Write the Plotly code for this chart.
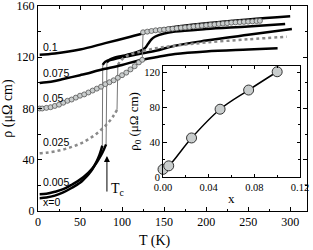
import plotly.graph_objects as go

# ---------------- data ----------------
# x = 0
T_x0_low = [2, 10, 20, 30, 40, 50, 55, 60, 65, 70, 73, 75, 76.5]
R_x0_low = [10, 10.5, 12, 14.5, 18, 22, 25, 28.5, 33, 39, 43.5, 47.5, 51]
T_x0_high = [77, 80, 90, 100, 120, 140, 163, 200, 250, 302]
R_x0_high = [114, 116.5, 118.5, 120, 122.5, 125, 129, 133, 137.5, 142]

# x = 0.005
T_x005_low = [2, 10, 20, 30, 40, 50, 60, 65, 70, 75, 78, 81]
R_x005_low = [13, 13.5, 15, 17, 20.5, 24.5, 30, 33.5, 38, 43.5, 47.5, 52]
T_x005_high = [82, 85, 90, 100, 110, 120, 127, 131, 135, 139, 150, 163, 200, 250, 294]
R_x005_high = [116, 118, 119.5, 121, 122.5, 124.5, 127, 130.5, 134, 136, 138.5, 140, 142, 144, 146]

# x = 0.025
T_x025_low = [2, 10, 20, 30, 40, 50, 60, 70, 80, 85, 90, 94]
R_x025_low = [45, 45.5, 46.5, 48, 50, 52.5, 56, 60.5, 66.5, 70, 74.5, 79]
T_x025_high = [95, 98, 102, 107, 120, 140, 163, 200, 250, 296]
R_x025_high = [114, 117, 119.5, 121.5, 124, 127, 129, 131.5, 134, 136]

# x = 0.05 (circles)
T_x05_low = [2, 5, 10, 15, 20, 25, 30, 35, 40, 45, 50, 55, 60, 65, 70, 75, 80,
             85, 90, 95, 100, 105, 110, 115, 120, 124]
R_x05_low = [80, 80, 80.5, 81, 82, 83, 84.5, 86, 87, 88.5, 90, 91, 92.5, 94, 95.5,
             97, 99, 100.5, 102, 104, 106, 108, 110.5, 113, 116, 118]
T_x05_high = [125, 130, 135, 140, 145, 150, 155, 160, 165, 170, 175, 180, 185, 190,
              195, 200, 205, 210, 215, 220, 225, 230, 235, 240, 245, 250, 255, 260, 264]
R_x05_high = [139.5, 140, 140.5, 141, 141.3, 141.6, 142, 142.3, 142.6, 143, 143.3,
              143.6, 144, 144.3, 144.6, 145, 145.3, 145.6, 146, 146.3, 146.6, 147,
              147.2, 147.4, 147.6, 147.8, 148, 148.2, 148.4]

# x = 0.075
T_x075 = [2, 10, 20, 30, 40, 50, 60, 70, 80, 100, 120, 140, 163, 200, 250, 285]
R_x075 = [100, 100.5, 101.5, 103, 104.5, 106, 107.5, 109.5, 111, 114, 117.5, 120,
          122.5, 124.5, 126, 127]

# x = 0.1
T_x10 = [2, 20, 50, 80, 110, 140, 160, 200, 250, 300]
R_x10 = [122, 123, 126, 131, 136, 141, 143.5, 146.5, 149.5, 152]

# inset: residual resistivity vs x
x_inset = [0, 0.005, 0.025, 0.05, 0.075, 0.1]
rho0_inset = [9, 13, 45, 78, 100, 121]

# curve labels
label_text = ["0.1", "0.075", "0.05", "0.025", "0.005", "x=0"]
label_T = [3.5, 3.5, 3.5, 3.5, 3.5, 3.5]
label_rho = [128, 108, 88, 53.5, 22.5, 7]

# ---------------- figure ----------------
fig = go.Figure()
BLACK = "black"
JUMP = "#777777"


def jump(Tl, Rl, Th, Rh, color=JUMP):
    fig.add_trace(go.Scatter(x=[Tl[-1], Th[0]], y=[Rl[-1], Rh[0]], mode="lines",
                             line=dict(color=color, width=1), showlegend=False,
                             hoverinfo="skip"))


# thick solid curves
for Tl, Rl, Th, Rh in [(T_x0_low, R_x0_low, T_x0_high, R_x0_high),
                       (T_x005_low, R_x005_low, T_x005_high, R_x005_high)]:
    jump(Tl, Rl, Th, Rh)
    for T, R in [(Tl, Rl), (Th, Rh)]:
        fig.add_trace(go.Scatter(x=T, y=R, mode="lines", line=dict(color=BLACK, width=2.5, shape="spline"),
                                 showlegend=False))

# 0.025: grey dotted
jump(T_x025_low, R_x025_low, T_x025_high, R_x025_high)
for T, R in [(T_x025_low, R_x025_low), (T_x025_high, R_x025_high)]:
    fig.add_trace(go.Scatter(x=T, y=R, mode="lines",
                             line=dict(color="#8a8a8a", width=2.5, dash="dot", shape="spline"),
                             showlegend=False))

for T, R in [(T_x075, R_x075), (T_x10, R_x10)]:
    fig.add_trace(go.Scatter(x=T, y=R, mode="lines", line=dict(color=BLACK, width=2.5, shape="spline"),
                             showlegend=False))

# 0.05: circles
jump(T_x05_low, R_x05_low, T_x05_high, R_x05_high)
for T, R in [(T_x05_low, R_x05_low), (T_x05_high, R_x05_high)]:
    fig.add_trace(go.Scatter(x=T, y=R, mode="lines+markers",
                             line=dict(color="#555555", width=1),
                             marker=dict(symbol="circle", size=5, color="#c9cdcd",
                                         line=dict(color="#555555", width=0.8)),
                             showlegend=False))

# inset
fig.add_trace(go.Scatter(x=x_inset, y=rho0_inset, mode="lines+markers", xaxis="x2", yaxis="y2",
                         line=dict(color=BLACK, width=1.5, shape="spline"),
                         marker=dict(size=10, color="#c9cdcd", line=dict(color="#333333", width=1)),
                         showlegend=False, cliponaxis=False))

serif = "Liberation Serif"
ann = []
for t, xx, yy in zip(label_text, label_T, label_rho):
    ann.append(dict(x=xx, y=yy, xref="x", yref="y", text=t, showarrow=False, xanchor="left",
                    font=dict(family="Liberation Sans", size=10.5, color="black")))
# Tc arrow
ann.append(dict(x=82, y=43, ax=82, ay=14, xref="x", yref="y", axref="x", ayref="y",
                text="", showarrow=True, arrowhead=2, arrowsize=1.2, arrowwidth=1, arrowcolor="black"))
ann.append(dict(x=84, y=17, xref="x", yref="y", text="T<sub>c</sub>", showarrow=False,
                xanchor="left", font=dict(family=serif, size=14, color="black")))
# axis titles placed as paper annotations
ann.append(dict(x=0.435, y=-0.146, xref="paper", yref="paper", text="T (K)", showarrow=False,
                xanchor="center", yanchor="middle", font=dict(family=serif, size=14, color="black")))
ann.append(dict(x=0.72, y=0.063, xref="paper", yref="paper", text="x", showarrow=False,
                xanchor="center", yanchor="middle", font=dict(family=serif, size=13, color="black")))

axis_common = dict(showline=True, linecolor="black", linewidth=1, mirror="ticks", ticks="inside",
                   tickcolor="black", showgrid=False, zeroline=False, ticklabeloverflow="allow",
                   automargin=False)

fig.update_layout(
    width=313, height=250,
    margin=dict(l=38, r=6, t=6, b=39),
    paper_bgcolor="white", plot_bgcolor="white",
    font=dict(family=serif, size=12, color="black"),
    xaxis=dict(range=[0, 320], dtick=50, tick0=0, ticklen=4, domain=[0, 1],
               minor=dict(ticks="inside", dtick=25, ticklen=2.5, tickcolor="black"),
               tickfont=dict(size=12, family=serif), **axis_common),
    yaxis=dict(range=[0, 160], dtick=40, tick0=0, ticklen=4, domain=[0, 1],
               minor=dict(ticks="inside", dtick=20, ticklen=2.5, tickcolor="black"),
               title=dict(text="ρ (μΩ cm)", font=dict(size=14, family=serif), standoff=6),
               tickfont=dict(size=12, family=serif), **axis_common),
    xaxis2=dict(range=[0, 0.12], dtick=0.04, tick0=0, tickformat=".2f", ticklen=3.5,
                domain=[0.4647, 0.974], anchor="y2",
                minor=dict(ticks="inside", dtick=0.02, ticklen=2, tickcolor="black"),
                tickfont=dict(size=10.5, family=serif), **axis_common),
    yaxis2=dict(range=[0, 128], dtick=40, tick0=0, ticklen=3.5,
                domain=[0.165, 0.709], anchor="x2",
                minor=dict(ticks="inside", dtick=20, ticklen=2, tickcolor="black"),
                title=dict(text="ρ<sub>0</sub> (μΩ cm)", font=dict(size=13, family=serif), standoff=2),
                tickfont=dict(size=10.5, family=serif), **axis_common),
    annotations=ann,
)

fig.write_html("out.html", config={"displayModeBar": False},
               post_script="document.body.style.margin='0';document.body.style.padding='0';")
